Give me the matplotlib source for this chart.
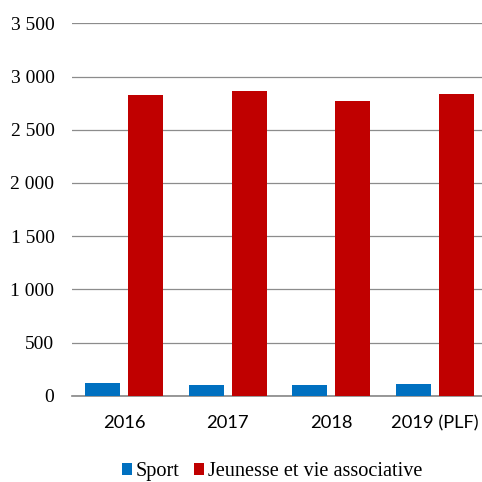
import matplotlib
matplotlib.use("Agg")
import matplotlib.pyplot as plt
from matplotlib.patches import Patch
import numpy as np

categories = ["2016", "2017", "2018", "2019 (PLF)"]
sport = [122, 104, 104, 110]
jeunesse = [2825, 2865, 2768, 2834]
yticks = [0, 500, 1000, 1500, 2000, 2500, 3000, 3500]
ytick_labels = ["0", "500", "1 000", "1 500", "2 000", "2 500", "3 000", "3 500"]
series_names = ["Sport", "Jeunesse et vie associative"]

blue = "#0070C0"
red = "#C00000"

fig = plt.figure(figsize=(4.82, 4.82), dpi=100)
ax = fig.add_axes([0.1504, 0.1788, 0.859, 0.7728])

x = np.arange(len(categories))
w = 0.335
ax.bar(x - 0.208, sport, width=w, color=blue, zorder=3)
ax.bar(x + 0.208, jeunesse, width=w, color=red, zorder=3)

ax.set_xlim(-0.5, 3.5)
ax.set_ylim(0, 3500)
ax.set_yticks(yticks)
ax.set_yticklabels(ytick_labels, family="Liberation Serif", fontsize=14)
ax.set_xticks(x)
ax.set_xticklabels(categories, family="Lato", fontsize=13.2)
ax.tick_params(axis="y", length=0, pad=13)
ax.tick_params(axis="x", length=0, pad=14)
ax.grid(axis="y", color="#8c8c8c", linewidth=0.9, zorder=0)
for s in ["top", "right", "left"]:
    ax.spines[s].set_visible(False)
ax.spines["bottom"].set_color("#868686")
ax.spines["bottom"].set_linewidth(1.2)

handles = [Patch(facecolor=blue), Patch(facecolor=red)]
fig.legend(handles, series_names, loc="center", bbox_to_anchor=(272 / 482, 1 - 471.7 / 482),
           ncol=2, frameon=False, prop={"family": "Liberation Serif", "size": 14.6},
           handlelength=0.5, handleheight=0.5, handletextpad=0.2, columnspacing=0.7,
           borderaxespad=0, borderpad=0)

fig.savefig("out.png", dpi=100)
